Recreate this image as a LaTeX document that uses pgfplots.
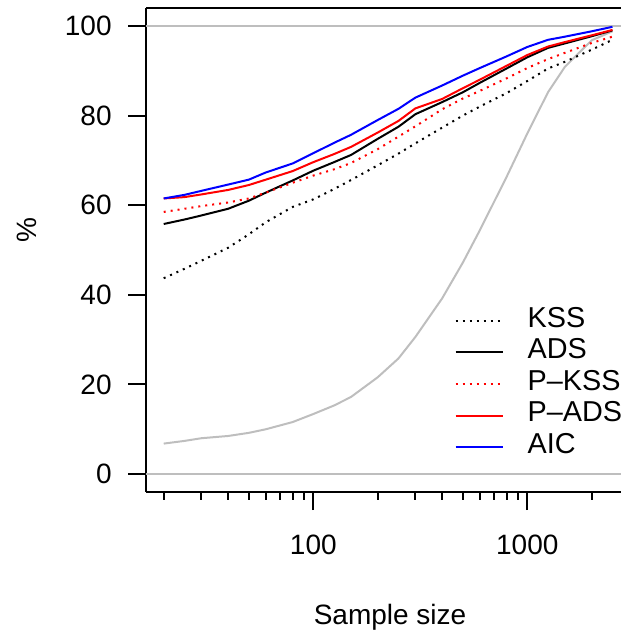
\documentclass[border=0pt]{standalone}
\usepackage{fontspec}
\setmainfont{Liberation Sans}
\usepackage{pgfplots}
\pgfplotsset{compat=1.18}

\definecolor{rgrey}{RGB}{190,190,190}
\definecolor{rred}{RGB}{255,0,0}
\definecolor{rblue}{RGB}{0,0,255}

\begin{document}
\begin{tikzpicture}
\useasboundingbox (0,0) rectangle (310.5pt,315pt);
\begin{axis}[
  at={(73pt,69pt)}, anchor=south west,
  scale only axis, width=237.5pt, height=242pt,
  xmode=log, xmin=16.53, xmax=2741, ymin=-4, ymax=104,
  axis y line*=left, axis line style={line width=1pt},
  every tick/.style={black, line width=1pt},
  tick align=outside, xtick pos=bottom, ytick pos=left,
  major tick length=9pt, minor tick length=4pt,
  xtick={100,1000}, xticklabels={100,1000},
  minor xtick={20,30,40,50,60,70,80,90,200,300,400,500,600,700,800,900,2000},
  ytick={0,20,40,60,80,100},
  extra y ticks={0,100}, extra y tick labels={},
  extra y tick style={major tick length=0pt, grid=major,
    major grid style={rgrey, line width=0.75pt}},
  font=\fontsize{14}{16}\selectfont,
  /pgf/number format/assume math mode=true,
  xticklabel style={anchor=base, yshift=-22pt},
  yticklabel style={anchor=east, inner sep=0pt, xshift=-8pt},
  xlabel={Sample size}, ylabel={\%},
  xlabel style={at={(axis description cs:0.5137,0)}, yshift=-66pt, anchor=base},
  ylabel style={at={(axis description cs:-0.2295,0.5413)}, anchor=base},
  legend style={draw=none, fill=none, at={(0.649,0.387)}, anchor=north west,
    inner sep=0pt, row sep=0pt,
    nodes={inner sep=0pt, text height=11pt, text depth=4.8pt},
    font=\fontsize{14.4}{16}\selectfont,
    /tikz/every odd column/.append style={column sep=12pt}},
  legend cell align=left,
  legend image code/.code={\draw[#1] (0pt,0pt) -- (23.5pt,0pt);},
  every axis plot/.append style={line width=1pt},
]
% grey curve (no legend entry)
\addplot[rgrey, forget plot] coordinates {
  (20,6.8) (25,7.4) (30,8.0) (40,8.5) (50,9.2) (60,10.0) (80,11.6) (100,13.4)
  (125,15.3) (150,17.2) (200,21.6) (250,25.8) (300,30.6) (400,39.2) (500,47.2)
  (600,54.4) (800,66.3) (1000,76.0) (1250,85.2) (1500,90.9) (2000,96.8) (2500,98.8)};
% KSS
\addplot[black, dash pattern=on 1pt off 2.5pt] coordinates {
  (20,43.7) (25,45.8) (30,47.6) (40,50.5) (50,53.5) (60,56.2) (80,59.6) (100,61.3)
  (125,63.6) (150,65.6) (200,68.9) (250,71.5) (300,73.8) (400,77.3) (500,80.0)
  (600,82.0) (800,85.0) (1000,87.7) (1250,90.5) (1500,92.0) (2000,94.7) (2500,96.9)};
\addlegendentry{KSS}
% ADS
\addplot[black] coordinates {
  (20,55.8) (25,56.8) (30,57.7) (40,59.2) (50,61.0) (60,62.8) (80,65.5) (100,67.7)
  (125,69.6) (150,71.2) (200,74.8) (250,77.5) (300,80.3) (400,83.0) (500,85.2)
  (600,87.3) (800,90.5) (1000,93.0) (1250,95.1) (1500,96.1) (2000,97.7) (2500,99.0)};
\addlegendentry{ADS}
% P-KSS
\addplot[rred, dash pattern=on 1pt off 2.5pt] coordinates {
  (20,58.5) (25,59.2) (30,59.8) (40,60.6) (50,61.5) (60,62.8) (80,65.0) (100,66.6)
  (125,68.0) (150,69.4) (200,72.5) (250,75.3) (300,77.6) (400,81.4) (500,83.8)
  (600,85.5) (800,88.3) (1000,90.6) (1250,92.6) (1500,94.0) (2000,96.2) (2500,97.6)};
\addlegendentry{P--KSS}
% P-ADS
\addplot[rred] coordinates {
  (20,61.5) (25,61.8) (30,62.4) (40,63.4) (50,64.5) (60,65.7) (80,67.6) (100,69.6)
  (125,71.4) (150,73.0) (200,76.2) (250,78.8) (300,81.6) (400,83.7) (500,86.1)
  (600,88.0) (800,91.1) (1000,93.5) (1250,95.4) (1500,96.4) (2000,97.9) (2500,99.1)};
\addlegendentry{P--ADS}
% AIC
\addplot[rblue] coordinates {
  (20,61.5) (25,62.3) (30,63.2) (40,64.6) (50,65.7) (60,67.3) (80,69.3) (100,71.6)
  (125,73.9) (150,75.7) (200,79.0) (250,81.5) (300,84.0) (400,86.7) (500,88.9)
  (600,90.6) (800,93.2) (1000,95.3) (1250,96.9) (1500,97.6) (2000,98.8) (2500,99.8)};
\addlegendentry{AIC}
\end{axis}
\end{tikzpicture}
\end{document}
